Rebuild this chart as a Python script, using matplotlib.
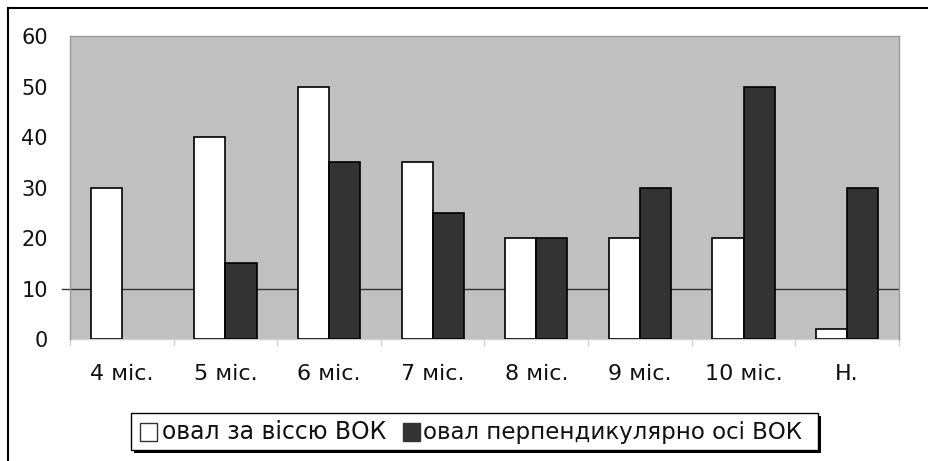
import matplotlib
matplotlib.use("Agg")
import matplotlib.pyplot as plt
from matplotlib.patches import Rectangle
from matplotlib.lines import Line2D
import numpy as np

categories = ["4 міс.", "5 міс.", "6 міс.", "7 міс.", "8 міс.", "9 міс.", "10 міс.", "Н."]
series_along = [30, 40, 50, 35, 20, 20, 20, 2]
series_perp = [0, 15, 35, 25, 20, 30, 50, 30]
series_names = ["овал за віссю ВОК", "овал перпендикулярно осі ВОК"]
yticks = [0, 10, 20, 30, 40, 50, 60]

plt.rcParams['font.family'] = ['DejaVu Sans']

W, H = 929, 461
fig = plt.figure(figsize=(W / 100, H / 100), dpi=100)

# outer border (left and top visible)
fig.add_artist(Line2D([8 / W, 8 / W], [0, 1 - 8 / H], transform=fig.transFigure, color='black', lw=1.5))
fig.add_artist(Line2D([8 / W, 1], [1 - 8 / H, 1 - 8 / H], transform=fig.transFigure, color='black', lw=1.5))

left, right, top, bottom = 70, 899, 36, 339
ax = fig.add_axes([left / W, 1 - bottom / H, (right - left) / W, (bottom - top) / H])
ax.set_facecolor('#C0C0C0')

n = len(categories)
x = np.arange(n)
bw = 0.3
ax.bar(x - bw / 2, series_along, width=bw, color='white', edgecolor='black',
       linewidth=[1.2 if v > 0 else 0 for v in series_along], zorder=3, label=series_names[0])
ax.bar(x + bw / 2, series_perp, width=bw, color='#333333', edgecolor='black',
       linewidth=[1.2 if v > 0 else 0 for v in series_perp], zorder=3, label=series_names[1])

ax.axhline(10, color='#333333', lw=1, zorder=2)
ax.set_xlim(-0.5, n - 0.5)
ax.set_ylim(0, 60)

for s in ['top', 'right', 'left']:
    ax.spines[s].set_color('#999999')
    ax.spines[s].set_linewidth(1)
ax.spines['bottom'].set_visible(False)

ax.set_yticks(yticks)
ax.set_yticklabels([str(v) for v in yticks], fontsize=15, color='#111111')
ax.tick_params(axis='y', length=0, pad=16)
# tick mark at 10
ax.plot([-0.5 - 8 / 103.6, -0.5], [10, 10], color='#333333', lw=1, clip_on=False)

ax.set_xticks(x)
ax.set_xticklabels(categories, fontsize=16, color='#111111')
ax.tick_params(axis='x', length=0, pad=18)
# boundary tick marks below axis
for b in np.arange(-0.5, n, 1.0):
    ax.plot([b, b], [0, -1.2], color='#D0D0D0', lw=1, clip_on=False)
ax.plot([-0.5, n - 0.5], [0, 0], color='#D0D0D0', lw=1, clip_on=False, zorder=1)

# legend
lx0, lx1, ly0, ly1 = 131, 818, 413, 450
fig.add_artist(Rectangle((lx0 / W + 3 / W, 1 - (ly1 + 3) / H), (lx1 - lx0) / W, (ly1 - ly0) / H,
                         transform=fig.transFigure, facecolor='black', edgecolor='black', lw=0))
fig.add_artist(Rectangle((lx0 / W, 1 - ly1 / H), (lx1 - lx0) / W, (ly1 - ly0) / H,
                         transform=fig.transFigure, facecolor='white', edgecolor='black', lw=1))
cy = 432
fig.add_artist(Rectangle((140 / W, 1 - (cy + 9) / H), 17 / W, 18 / H, transform=fig.transFigure,
                         facecolor='white', edgecolor='#333333', lw=1))
fig.add_artist(Rectangle((403 / W, 1 - (cy + 9) / H), 17 / W, 18 / H, transform=fig.transFigure,
                         facecolor='#333333', edgecolor='#333333', lw=1))

renderer = fig.canvas.get_renderer()
for name, x0, x1 in [(series_names[0], 162, 387), (series_names[1], 423, 802)]:
    t = fig.text(x0 / W, 1 - cy / H, name, fontsize=16, va='center', ha='left', color='#111111')
    w = t.get_window_extent(renderer).width
    t.set_fontsize(16 * (x1 - x0) / w)

fig.savefig('out.png', dpi=100)
